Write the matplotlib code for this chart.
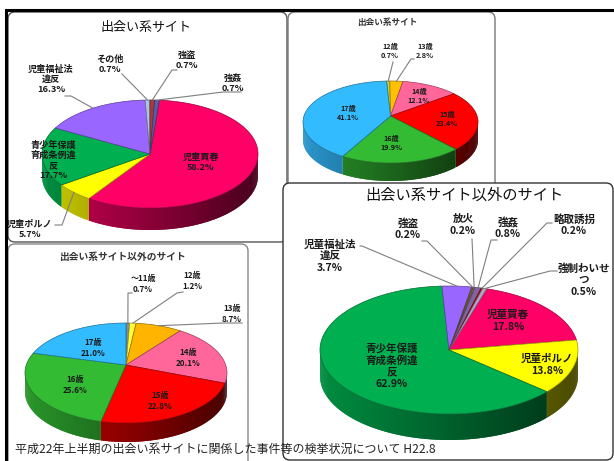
import numpy as np
import matplotlib
matplotlib.use('Agg')
import matplotlib.pyplot as plt
from matplotlib.patches import FancyBboxPatch

plt.rcParams['font.family'] = ['Noto Sans CJK JP', 'DejaVu Sans']

# data
crime_names_1 = ['児童買春', '児童ポルノ', '青少年保護\n育成条例違\n反', '児童福祉法\n違反', 'その他', '強盗', '強姦']
crime_values_1 = [58.2, 5.7, 17.7, 16.3, 0.7, 0.7, 0.7]
crime_colors_1 = ['#FF0066', '#FFFF00', '#00B050', '#9966FF', '#A9C4E6', '#A83A3A', '#5B5BA8']

age_names_2 = ['12歳', '13歳', '14歳', '15歳', '16歳', '17歳']
age_values_2 = [0.7, 2.8, 12.1, 23.4, 19.9, 41.1]
age_colors_2 = ['#C8D040', '#FFC000', '#FF6699', '#FF0000', '#33BB33', '#33BBFF']

age_names_3 = ['~11歳', '12歳', '13歳', '14歳', '15歳', '16歳', '17歳']
age_values_3 = [0.7, 1.2, 8.7, 20.1, 22.8, 25.6, 21.0]
age_colors_3 = ['#7F8F9F', '#FFFF33', '#FFB400', '#FF6699', '#FF0000', '#33BB33', '#33BBFF']

crime_names_4 = ['児童買春', '児童ポルノ', '青少年保護\n育成条例違\n反', '児童福祉法\n違反', '強盗', '放火', '強姦', '略取誘拐', '強制わいせ\nつ']
crime_values_4 = [17.8, 13.8, 62.9, 3.7, 0.2, 0.2, 0.8, 0.2, 0.5]
crime_colors_4 = ['#FF0066', '#FFFF00', '#00B050', '#9966FF', '#7A6A40', '#8A6A50', '#8064A2', '#C00000', '#B0A8C8']

# where each label goes, in picture pixels
label_pos_1 = [(201, 162), (30, 229), (53, 160), (51, 79), (110, 64), (187, 60), (233, 83)]
label_pos_2 = [(390, 51), (425, 51), (419, 96), (447, 119), (391, 143), (348, 113)]
label_pos_3 = [(143, 284), (192, 281), (232, 314), (188, 358), (160, 401), (75, 385), (93, 348)]
label_pos_4 = [(508, 321), (547, 365), (392, 366), (330, 256), (408, 229), (463, 225), (508, 228), (574, 225), (584, 280)]

leaders_1 = {4: [(122, 74)], 5: [(172, 70), (177, 70)], 6: [(223, 92), (241, 92)], 3: [(71, 96), (65, 96)], 1: [(62, 225), (55, 225)]}
leaders_2 = {0: [(393, 62)], 1: [(411, 59), (414, 59)]}
leaders_3 = {0: [(128, 293), (132, 293)], 1: [(177, 293), (183, 292)], 2: [(223, 323), (242, 323)]}
leaders_4 = {3: [(362, 246), (360, 246)], 4: [(427, 241), (422, 241)], 5: [(472, 239)], 6: [(491, 240), (497, 240)],
             7: [(547, 223), (552, 223)], 8: [(550, 271), (557, 271)]}


def shade(color, k):
    return tuple(c * k for c in matplotlib.colors.to_rgb(color))


def edge_xy(ang, cx, cy, rx, ry, off):
    # point on the rim for a slice angle (deg, clockwise from top); off = how far the apex sits from the centre
    a = np.radians(ang)
    dx, dy = np.sin(a), -np.cos(a)
    b = off * dy
    s = -b + np.sqrt(b * b - off * off + 1)
    return cx + rx * s * dx, cy + ry * (off + s * dy)


def draw_pie(ax, values, colors, names, label_pos, leaders, cx, cy, rx, ry, depth, off, start, size, spacing, z):
    total = sum(values)
    angles = start + np.cumsum([0] + list(values)) * 360.0 / total
    # side wall first, strips overlap so no seams show
    for i in range(len(values)):
        t = np.arange(angles[i], angles[i + 1] + 0.75, 0.75)
        t[-1] = angles[i + 1]
        for n in range(len(t) - 1):
            a, b = t[n], t[min(n + 2, len(t) - 1)]
            x1, y1 = edge_xy(a, cx, cy, rx, ry, off)
            x2, y2 = edge_xy(b, cx, cy, rx, ry, off)
            if y1 < cy and y2 < cy:
                continue
            k = 0.8 - 0.52 * ((x1 + x2) / 2 - (cx - rx)) / (2 * rx)
            ax.fill([x1, x2, x2, x1], [y1, y2, y2 + depth, y1 + depth], facecolor=shade(colors[i], k), lw=0, zorder=z)
    # top surface
    ax_x, ax_y = cx, cy + ry * off
    for i in range(len(values)):
        t = np.arange(angles[i], angles[i + 1], 0.5)
        t = np.append(t, angles[i + 1])
        xs, ys = edge_xy(t, cx, cy, rx, ry, off)
        ax.fill(np.r_[ax_x, xs], np.r_[ax_y, ys], facecolor=colors[i], edgecolor=shade(colors[i], 0.6), lw=0.5, zorder=z + 1)
    # leader lines
    for i, pts in leaders.items():
        x0, y0 = edge_xy((angles[i] + angles[i + 1]) / 2, cx, cy, rx, ry, off)
        ax.plot([x0] + [p[0] for p in pts], [y0] + [p[1] for p in pts], color='#7F7F7F', lw=0.8, zorder=z + 2)
    # labels
    for i, (x, y) in enumerate(label_pos):
        ax.text(x, y, '%s\n%.1f%%' % (names[i].replace('~', '～'), values[i]), ha='center', va='center', fontsize=size,
                fontweight='bold', color='#1A1A1A', linespacing=spacing, zorder=z + 3)


def box(ax, x0, y0, x1, y1, ec, z):
    ax.add_patch(FancyBboxPatch((x0 + 6, y0 + 6), x1 - x0 - 12, y1 - y0 - 12, boxstyle='round,pad=6,rounding_size=7',
                                fc='white', ec=ec, lw=1.0, zorder=z))


fig = plt.figure(figsize=(6.14, 4.61), dpi=100)
ax = fig.add_axes([0, 0, 1, 1])
ax.set_xlim(0, 614)
ax.set_ylim(461, 0)
ax.axis('off')

box(ax, 8, 12, 287, 242, '#555555', 1)
ax.text(146, 27, '出会い系サイト', ha='center', va='center', fontsize=9.4, color='#111111', zorder=5)
draw_pie(ax, crime_values_1, crime_colors_1, crime_names_1, label_pos_1, leaders_1, 150, 154, 108, 54, 22, 0.0, 5, 6.6, 1.15, 2)

box(ax, 288, 12, 495, 200, '#777777', 1)
ax.text(387, 22, '出会い系サイト', ha='center', va='center', fontsize=6.2, fontweight='bold', color='#333333', zorder=5)
draw_pie(ax, age_values_2, age_colors_2, age_names_2, label_pos_2, leaders_2, 390.5, 122, 87.5, 41, 18, -0.146, -3, 5.2, 1.25, 2)

box(ax, 8, 244, 248, 470, '#888888', 1)
ax.text(122, 257, '出会い系サイト以外のサイト', ha='center', va='center', fontsize=7, fontweight='bold', color='#333333', zorder=5)
draw_pie(ax, age_values_3, age_colors_3, age_names_3, label_pos_3, leaders_3, 126, 373, 101, 50, 19, -0.16, 0, 5.8, 1.25, 2)

box(ax, 283, 183, 613, 460, '#333333', 8)
ax.text(464, 195, '出会い系サイト以外のサイト', ha='center', va='center', fontsize=11, color='#111111', zorder=20)
draw_pie(ax, crime_values_4, crime_colors_4, crime_names_4, label_pos_4, leaders_4, 449, 350, 129, 64, 26, 0.0, 17, 7.6, 1.2, 9)

# outer black rule
ax.plot([6, 6, 614], [461, 10, 10], color='black', lw=2.2, zorder=30, solid_joinstyle='miter')

ax.text(15, 449, '平成22年上半期の出会い系サイトに関係した事件等の検挙状況について H22.8', ha='left', va='center',
        fontsize=8.65, color='#222222', zorder=31)

fig.savefig('out.png', dpi=100)
